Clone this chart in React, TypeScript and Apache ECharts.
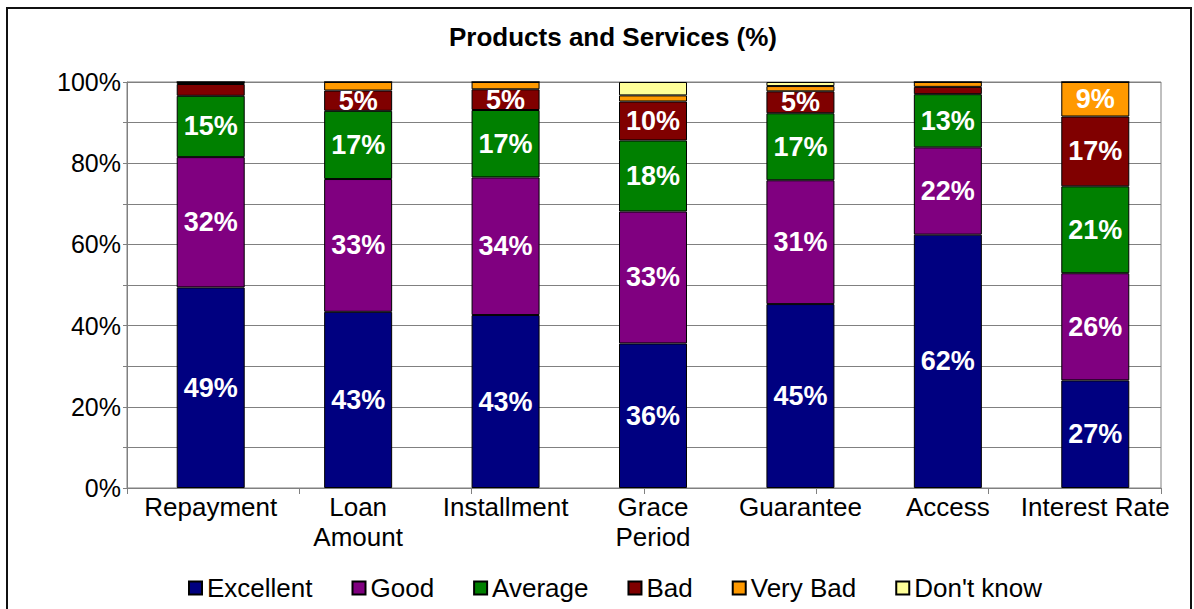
import React, { useEffect, useRef } from "react";
import * as echarts from "echarts";

const categories = ["Repayment", "Loan\nAmount", "Installment", "Grace\nPeriod", "Guarantee", "Access", "Interest Rate"];
const seriesNames = ["Excellent", "Good", "Average", "Bad", "Very Bad", "Don't know"];
const excellent = [49.4, 43.4, 42.6, 35.6, 45.3, 62.4, 26.5];
const good = [32.1, 32.7, 33.9, 32.5, 30.5, 21.5, 26.4];
const average = [15.1, 16.8, 16.6, 17.5, 16.5, 13.1, 21.4];
const bad = [2.9, 5.0, 5.1, 9.6, 5.4, 1.8, 17.2];
const veryBad = [0.5, 2.1, 1.8, 1.5, 1.3, 1.2, 8.5];
const dontKnow = [0, 0, 0, 3.3, 1.0, 0, 0];
const tickSlots = ["", "", "", "", "", ""];
const colors = ["#000080", "#800080", "#008000", "#800000", "#FF9900", "#FFFF99"];

const FONT = "'Liberation Sans', Arial, Helvetica, sans-serif";

export default function App() {
  const ref = useRef<HTMLDivElement>(null);
  useEffect(() => {
    document.body.style.margin = "0";
    document.body.style.overflow = "hidden";
    if (!ref.current) return;
    const chart = echarts.init(ref.current, undefined, { renderer: "svg" });
    const allData = [excellent, good, average, bad, veryBad, dontKnow];
    chart.setOption({
      animation: false,
      title: {
        text: "Products and Services (%)",
        left: 444,
        top: 19,
        textStyle: { fontFamily: FONT, fontSize: 26, fontWeight: "bold", color: "#000" },
      },
      graphic: [
        {
          type: "rect",
          shape: { x: 7, y: 8, width: 1184, height: 640 },
          style: { fill: "none", stroke: "#111", lineWidth: 2 },
          silent: true,
        },
      ],
      legend: {
        data: seriesNames,
        left: 183,
        top: 570,
        itemWidth: 13,
        itemHeight: 13,
        itemGap: 39,
        icon: "rect",
        textStyle: { fontFamily: FONT, fontSize: 26, color: "#000" },
      },
      grid: [
        {
          left: 127,
          right: 33,
          top: 82,
          bottom: 121,
          show: true,
          borderColor: "#808080",
          borderWidth: 1,
          backgroundColor: "transparent",
        },
        {
          left: 137,
          right: 25,
          top: 82,
          bottom: 121,
        },
      ],
      xAxis: [
        {
          type: "category",
          gridIndex: 0,
          data: tickSlots,
          axisLine: { lineStyle: { color: "#808080", width: 1 } },
          axisTick: { show: true, length: 6, lineStyle: { color: "#808080" } },
          axisLabel: { show: false },
        },
        {
          type: "category",
          gridIndex: 1,
          data: categories,
          axisLine: { show: false },
          axisTick: { show: false },
          axisLabel: {
            fontFamily: FONT,
            fontSize: 26,
            color: "#000",
            margin: 4,
            lineHeight: 30,
            interval: 0,
          },
        },
      ],
      yAxis: [
        {
          type: "value",
          gridIndex: 0,
          min: 0,
          max: 100,
          interval: 10,
          axisLine: { show: true, lineStyle: { color: "#808080", width: 1 } },
          axisTick: { show: true, length: 4, lineStyle: { color: "#808080" } },
          splitLine: { show: true, lineStyle: { color: "#808080", width: 1 } },
          axisLabel: {
            fontFamily: FONT,
            fontSize: 25,
            color: "#000",
            margin: 6,
            formatter: (v: number) => (v % 20 === 0 ? v + "%" : ""),
          },
        },
        {
          type: "value",
          gridIndex: 1,
          min: 0,
          max: 100,
          show: false,
          splitLine: { show: false },
        },
      ],
      series: seriesNames.map((name, i) => ({
        name,
        type: "bar",
        stack: "total",
        xAxisIndex: 1,
        yAxisIndex: 1,
        barWidth: 68,
        data: allData[i],
        itemStyle: { color: colors[i], borderColor: "#000", borderWidth: 1 },
        label: {
          show: true,
          position: "inside",
          color: "#fff",
          fontFamily: FONT,
          fontSize: 27,
          fontWeight: "bold",
          formatter: (p: any) => (p.value >= 4.5 ? Math.round(p.value) + "%" : ""),
        },
      })),
    });
    return () => chart.dispose();
  }, []);
  return <div ref={ref} style={{ width: 1194, height: 609 }} />;
}
